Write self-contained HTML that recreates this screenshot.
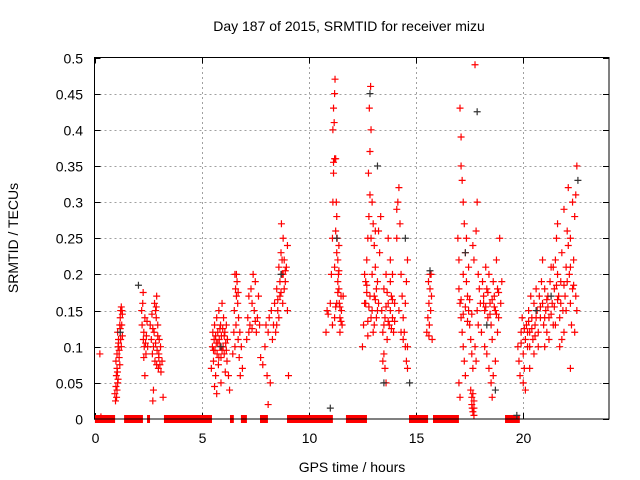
<!DOCTYPE html>
<html><head><meta charset="utf-8"><style>
html,body{margin:0;padding:0;background:#fff;}
svg{display:block;font-family:"Liberation Sans",sans-serif;}
</style></head><body>
<svg id="chart" width="640" height="480">
<rect width="640" height="480" fill="#fff"/>
<text x="349" y="31" font-size="14" text-anchor="middle">Day 187 of 2015, SRMTID for receiver mizu</text>
<text transform="translate(18,238) rotate(-90)" font-size="14" text-anchor="middle">SRMTID / TECUs</text>
<text x="352" y="472" font-size="14" text-anchor="middle">GPS time / hours</text>
<g id="grid"></g>
<g id="ticks"></g>
<g id="zeros"></g>
<g id="redpts"></g>
<g id="blackpts"></g>
<rect x="94.5" y="57.5" width="514.5" height="361.5" fill="none" stroke="#000" stroke-width="1"/>
</svg>
<script>
const xTicks = [0,5,10,15,20];
const yTicks = [0,0.05,0.1,0.15,0.2,0.25,0.3,0.35,0.4,0.45,0.5];
const yTickLabels = ["0","0.05","0.1","0.15","0.2","0.25","0.3","0.35","0.4","0.45","0.5"];
const zeroStarts = [0.02,1.38,2.45,3.24,6.32,6.83,7.72,8.98,11.73,14.67,15.79,19.15];
const zeroEnds   = [0.96,2.26,2.59,5.48,6.50,7.11,8.09,11.12,12.71,15.56,17.00,19.84];
const redPoints = [
[0.25,.09],[0.3,.003],
[0.95,.035],[0.98,.025],[1.0,.045],[1.02,.06],[1.03,.03],[1.05,.04],[1.07,.065],[1.08,.05],[1.0,.08],[1.05,.09],[1.1,.1],[1.12,.11],[1.08,.12],[1.15,.095],[1.18,.13],[1.2,.14],[1.22,.15],[1.25,.155],[1.28,.15],[1.3,.115],[1.12,.105],[1.15,.085],[1.2,.125],[1.25,.1],[1.3,.145],[1.05,.07],[1.18,.075],[1.22,.11],[1.27,.13],[1.1,.055],
[2.2,.15],[2.22,.13],[2.25,.16],[2.28,.11],[2.3,.12],[2.32,.1],[2.35,.14],[2.38,.105],[2.4,.09],[2.42,.115],[2.45,.135],[2.3,.085],[2.35,.06],[2.48,.1],[2.27,.175],
[2.6,.13],[2.65,.11],[2.68,.145],[2.7,.09],[2.72,.125],[2.75,.1],[2.78,.12],[2.8,.16],[2.82,.08],[2.85,.105],[2.88,.14],[2.9,.075],[2.92,.095],[2.95,.13],[2.98,.07],[3.0,.085],[3.02,.11],[3.05,.075],[3.08,.1],[3.1,.065],[3.15,.08],[2.85,.15],[2.9,.17],[2.75,.04],[2.72,.025],[3.2,.03],[2.95,.115],[3.0,.09],[2.88,.155],
[5.45,.07],[5.5,.1],[5.52,.12],[5.55,.08],[5.58,.11],[5.6,.13],[5.62,.095],[5.65,.06],[5.68,.105],[5.7,.14],[5.72,.09],[5.75,.12],[5.78,.075],[5.8,.15],[5.82,.11],[5.85,.1],[5.88,.13],[5.9,.085],[5.92,.115],[5.95,.16],[5.98,.125],[6.0,.1],[6.02,.14],[6.05,.09],[6.08,.12],[6.1,.065],[6.12,.105],[6.15,.13],[6.18,.08],[6.2,.11],[5.6,.045],[5.7,.035],[5.9,.05],[6.25,.06],[6.3,.04],
[5.55,.095],[5.65,.115],[5.75,.105],[5.85,.125],[5.95,.095],[6.05,.115],[6.15,.095],[5.8,.085],
[6.45,.09],[6.5,.12],[6.52,.15],[6.55,.1],[6.58,.18],[6.6,.13],[6.62,.17],[6.65,.19],[6.68,.16],[6.7,.11],[6.72,.14],[6.75,.085],[6.78,.12],[6.8,.06],[6.85,.1],[6.9,.07],[6.55,.2],[6.62,.2],[6.7,.175],
[7.1,.11],[7.15,.14],[7.2,.17],[7.25,.13],[7.3,.18],[7.35,.16],[7.4,.2],[7.45,.15],[7.5,.19],[7.55,.12],[7.6,.14],[7.65,.17],[7.7,.13],[7.2,.12],[7.35,.125],[7.5,.135],[7.75,.085],[7.85,.075],
[7.95,.1],[8.0,.13],[8.05,.06],[8.1,.12],[8.15,.14],[8.2,.05],[8.25,.15],[8.3,.11],[8.35,.13],[8.4,.16],[8.45,.12],[8.5,.18],[8.55,.15],[8.6,.21],[8.65,.17],[8.7,.23],[8.75,.2],[8.8,.25],[8.72,.27],[8.85,.22],[8.9,.19],[8.95,.21],[8.78,.16],[8.6,.14],[8.5,.13],[9.0,.24],[9.05,.06],[8.1,.02],[8.85,.18],[9.0,.15],
[8.65,.19],[8.75,.22],[8.8,.2],[8.7,.175],[8.9,.205],[8.55,.165],
[10.8,.12],[10.85,.15],[10.9,.145],[11.0,.16],[11.05,.2],[11.1,.25],[11.12,.3],[11.15,.34],[11.2,.36],[11.12,.4],[11.15,.43],[11.2,.45],[11.22,.47],[11.18,.41],[11.25,.36],[11.28,.3],[11.3,.28],[11.32,.25],[11.35,.22],[11.38,.2],[11.4,.18],[11.42,.16],[11.45,.14],[11.5,.17],[11.52,.15],[11.55,.13],[11.3,.23],[11.25,.26],[11.35,.19],[11.4,.24],[11.6,.17],[11.45,.12],[11.2,.14],[11.3,.16],[11.1,.13],
[11.15,.355],[11.2,.21],[11.35,.175],[11.45,.155],[11.5,.135],[11.25,.155],[11.4,.205],
[12.5,.1],[12.55,.13],[12.6,.16],[12.65,.19],[12.7,.22],[12.75,.25],[12.8,.28],[12.85,.31],[12.78,.34],[12.85,.37],[12.9,.4],[12.82,.43],[12.88,.46],[12.95,.3],[13.0,.27],[13.05,.24],[13.1,.21],[13.15,.18],[13.2,.15],[12.6,.2],[12.7,.175],[12.8,.155],[12.9,.14],[13.0,.12],[13.1,.165],[13.2,.19],[13.3,.23],[13.25,.26],[13.35,.28],[12.75,.115],[12.95,.2],[13.05,.17],
[12.65,.16],[12.75,.135],[12.85,.17],[12.95,.15],[13.05,.13],[13.15,.14],[13.25,.16],[12.7,.185],[12.9,.25],[13.1,.26],
[13.4,.15],[13.45,.12],[13.5,.18],[13.55,.14],[13.6,.2],[13.65,.11],[13.7,.16],[13.5,.09],[13.55,.07],[13.6,.05],[13.45,.08],[13.75,.13],[13.8,.19],[13.85,.17],[13.9,.14],[13.95,.12],[14.0,.16],[13.7,.25],[13.8,.22],[13.9,.2],
[13.5,.13],[13.6,.155],[13.7,.135],[13.8,.15],[13.9,.165],[14.0,.135],[13.65,.175],[13.85,.125],
[14.1,.25],[14.15,.3],[14.2,.32],[14.25,.27],[14.3,.2],[14.35,.17],[14.4,.14],[14.45,.12],[14.5,.1],[14.55,.08],[14.6,.07],[14.5,.16],[14.55,.19],[14.6,.22],[14.2,.15],[14.3,.12],[14.4,.11],[14.1,.29],[14.6,.1],
[15.5,.12],[15.55,.14],[15.6,.16],[15.65,.18],[15.7,.2],[15.62,.13],[15.68,.15],[15.72,.17],[15.75,.11],[15.58,.19],[15.65,.2],[15.6,.115],
[16.95,.25],[17.0,.22],[17.05,.43],[17.1,.39],[17.1,.35],[17.15,.33],[17.2,.3],[17.25,.27],[17.0,.18],[17.05,.16],[17.1,.14],[17.15,.12],[17.2,.1],[17.25,.08],[17.3,.06],[17.0,.05],[17.05,.03],[17.2,.2],[17.3,.23],[17.35,.19],[17.4,.17],[17.45,.15],[17.5,.13],[17.55,.11],[17.6,.09],[17.65,.07],[17.55,.04],[17.6,.02],[17.65,.01],[17.7,.005],[17.6,.03],[17.7,.015],[17.75,.49],[17.65,.24],[17.7,.22],[17.8,.26],[17.85,.3],[17.9,.2],[17.95,.18],[17.85,.15],[17.9,.13],[18.0,.16],[18.05,.12],[17.75,.1],[17.8,.08],[17.45,.21],[17.35,.25],
[17.1,.165],[17.2,.145],[17.3,.155],[17.4,.135],[17.5,.165],[17.6,.145],[17.7,.025],[17.65,.035],[17.62,.015],
[18.1,.19],[18.15,.17],[18.2,.15],[18.25,.21],[18.3,.18],[18.35,.14],[18.4,.2],[18.45,.16],[18.5,.13],[18.55,.11],[18.6,.19],[18.65,.17],[18.7,.15],[18.75,.22],[18.8,.18],[18.85,.14],[18.9,.25],[18.95,.16],[19.0,.19],[18.3,.09],[18.4,.07],[18.5,.05],[18.55,.03],[18.6,.06],[18.7,.08],[18.2,.1],[18.8,.12],
[18.15,.16],[18.25,.155],[18.35,.175],[18.45,.145],[18.55,.165],[18.65,.155],[18.75,.145],[18.85,.175],
[19.75,.1],[19.8,.08],[19.85,.06],[19.9,.12],[19.95,.14],[20.0,.09],[20.05,.07],[20.1,.11],[20.15,.13],[20.2,.1],[20.25,.15],[20.3,.12],[20.35,.17],[20.4,.14],[20.45,.11],[20.5,.16],[20.55,.13],[20.6,.18],[20.65,.15],[20.7,.12],[20.75,.17],[20.8,.14],[20.85,.19],[20.9,.16],[20.95,.13],[21.0,.18],[21.05,.15],[21.1,.12],[21.15,.17],[21.2,.14],[21.25,.19],[21.3,.21],[21.35,.16],[21.4,.13],[21.45,.18],[21.5,.22],[21.55,.25],[21.6,.2],[21.65,.17],[21.7,.14],[21.75,.19],[21.8,.23],[21.85,.15],[21.9,.12],[21.95,.17],[22.0,.21],[22.05,.26],[22.1,.24],[22.15,.2],[22.2,.16],[22.25,.13],[22.3,.18],[22.35,.22],[22.4,.28],[22.45,.31],[22.5,.35],[22.5,.15],[22.45,.17],[22.4,.12],[20.0,.05],[20.1,.04],[20.3,.07],[20.5,.09],[20.7,.1],[21.0,.1],[21.2,.11],[21.5,.13],[21.8,.11],[22.0,.15],[22.2,.07],[21.6,.27],[21.9,.29],[22.1,.32],[22.2,.25],[21.4,.21],[20.9,.22],[20.2,.12],[21.7,.1],[22.3,.3],
[19.9,.105],[20.05,.125],[20.25,.135],[20.4,.125],[20.6,.14],[20.8,.155],[21.0,.14],[21.15,.155],[21.3,.145],[21.45,.155],[21.6,.165],[21.75,.16],[21.9,.185],[22.05,.19],[22.2,.21],[22.35,.185],[20.3,.1],[20.55,.115],[21.1,.165],[21.55,.185]
];
const blackPoints = [[2.05,.185],[11.0,.015],[12.85,.45],[17.85,.425],[15.65,.205],[18.7,.04],[13.5,.05],[14.7,.05],[19.7,.005],[13.2,.35],[11.3,.25],[22.55,.33],[17.3,.23],[20.6,.15],[1.2,.12],[5.9,.1],[8.7,.2],[14.5,.25],[18.3,.13],[21.3,.17]];

const X0=94.5, X1=609, Y0=419, Y1=57.5;
function xs(t){return X0+(t/24)*(X1-X0);}
function ys(v){return Y0-(v/0.5)*(Y0-Y1);}
const NS="http://www.w3.org/2000/svg";
function mk(tag,attrs,parent){const e=document.createElementNS(NS,tag);for(const k in attrs)e.setAttribute(k,attrs[k]);parent.appendChild(e);return e;}
const grid=document.getElementById('grid'), ticks=document.getElementById('ticks');
yTicks.forEach((v,i)=>{
  const y=Math.round(ys(v))+0.5;
  if(i>0&&i<yTicks.length-1){const g=mk('line',{x1:X0,x2:X1,y1:y,y2:y,stroke:'#a0a0a0','stroke-dasharray':'2,3'},grid);
  
  }
  const t1=mk('line',{x1:X0,x2:X0+6,y1:y,y2:y,stroke:'#000'},ticks);
  
  
  const t2=mk('line',{x1:X1-6,x2:X1,y1:y,y2:y,stroke:'#000'},ticks);
  
  
  const l=mk('text',{x:83,y:y+5,'font-size':14,'text-anchor':'end'},ticks);
  l.textContent=yTickLabels[i];
  
  
});
xTicks.forEach(t=>{
  const x=Math.round(xs(t))+0.5;
  if(t>0){const g=mk('line',{x1:x,x2:x,y1:Y0,y2:Y1,stroke:'#a0a0a0','stroke-dasharray':'2,3'},grid);
  
  }
  const t1=mk('line',{x1:x,x2:x,y1:Y0,y2:Y0-6,stroke:'#000'},ticks);
  
  
  const t2=mk('line',{x1:x,x2:x,y1:Y1,y2:Y1+6,stroke:'#000'},ticks);
  
  
  const l=mk('text',{x:x,y:443,'font-size':14,'text-anchor':'middle'},ticks);
  l.textContent=String(t);
  
  
});
const zeros=document.getElementById('zeros');
zeroStarts.forEach((s,i)=>{
  const r=mk('rect',{x:xs(s),y:ys(0)-4,width:xs(zeroEnds[i])-xs(s),height:8,fill:'#f00'},zeros);
  
  
});
function cross(t,v,color,parent){
  const x=xs(t), y=ys(v);
  const p=mk('path',{d:`M${x-3.5},${y}H${x+3.5}M${x},${y-3.5}V${y+3.5}`,stroke:color,'stroke-width':1.2,fill:'none'},parent);
  return p;
}
const rg=document.getElementById('redpts');
redPoints.forEach(p=>{
  const c=cross(p[0],p[1],'#f00',rg);
  
  
});
const bg=document.getElementById('blackpts');
blackPoints.forEach(p=>{
  const c=cross(p[0],p[1],'#333',bg);
  
  
});
</script>
</body></html>
